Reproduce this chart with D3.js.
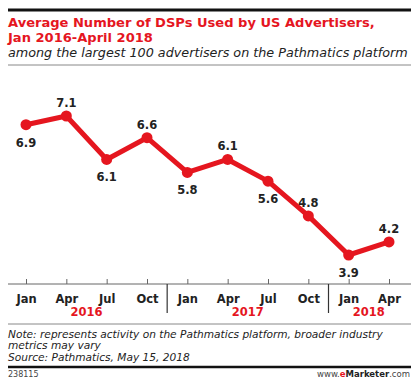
<!DOCTYPE html>
<html><head><meta charset="utf-8">
<script src="https://cdn.jsdelivr.net/npm/d3@7"></script>
<style>body{margin:0;background:#fff}svg{display:block}</style>
</head><body>
<script>
const months = ["Jan","Apr","Jul","Oct","Jan","Apr","Jul","Oct","Jan","Apr"];
const values = [6.9,7.1,6.1,6.6,5.8,6.1,5.6,4.8,3.9,4.2];
const labelPos = ["below","above","below","above","below","above","below","above","below","above"];
const years = ["2016","2017","2018"];
const yearStart = [0,4,8];
const yearEnd = [3,7,9];

const W=420,H=392;
const svg=d3.select("body").append("svg").attr("width",W).attr("height",H);
const red="#e5161f", dark="#222";
const font="'DejaVu Sans', 'Open Sans', sans-serif";

// fit a text's font size so it spans a target width
function fitText(sel, target){
  sel.attr("font-size",10);
  const w=sel.node().getComputedTextLength();
  sel.attr("font-size",(10*target/w).toFixed(2));
  return sel;
}

svg.append("rect").attr("width",W).attr("height",H).attr("fill","#fff");
svg.append("line").attr("x1",8).attr("x2",411).attr("y1",10).attr("y2",10).attr("stroke","#111").attr("stroke-width",3);
const t1=svg.append("text").attr("x",8).attr("y",27).attr("fill",red).attr("font-family",font).attr("font-weight",700).text("Average Number of DSPs Used by US Advertisers,");
fitText(t1,367);
svg.append("text").attr("x",8).attr("y",42).attr("fill",red).attr("font-family",font).attr("font-weight",700).attr("font-size",t1.attr("font-size")).text("Jan 2016-April 2018");
const st=svg.append("text").attr("x",8).attr("y",56.5).attr("fill",dark).attr("font-family",font).attr("font-style","italic").text("among the largest 100 advertisers on the Pathmatics platform");
fitText(st,400);
svg.append("line").attr("x1",8).attr("x2",411).attr("y1",65).attr("y2",65).attr("stroke","#888").attr("stroke-width",1);

const x=d3.scalePoint().domain(d3.range(values.length)).range([26,389]);
const y=d3.scaleLinear().domain([3.9,7.1]).range([255,116]);
const axisY=284;

// axis
const ax=svg.append("g").attr("transform",`translate(0,${axisY})`)
  .call(d3.axisBottom(x).tickSize(-5).tickFormat(i=>months[i]).tickPadding(9));
ax.select(".domain").attr("d",`M8,0H411`).attr("stroke","#666").attr("stroke-width",1);
ax.selectAll(".tick line").attr("stroke","#666");
ax.selectAll(".tick text").attr("font-family",font).attr("font-weight",700).attr("font-size",11.5).attr("fill",dark).attr("dy","0.85em");

const step=x.step();
[1,2].forEach(k=>{
  const sx=x(yearStart[k])-step/2;
  svg.append("line").attr("x1",sx).attr("x2",sx).attr("y1",axisY).attr("y2",313).attr("stroke","#333").attr("stroke-width",1.2);
});
years.forEach((yr,k)=>{
  svg.append("text").attr("x",(x(yearStart[k])+x(yearEnd[k]))/2).attr("y",315.5).attr("text-anchor","middle")
   .attr("fill",red).attr("font-family",font).attr("font-weight",700).attr("font-size",11.5).text(yr);
});

// line
const line=d3.line().x((d,i)=>x(i)).y(d=>y(d));
svg.append("path").datum(values).attr("d",line).attr("fill","none").attr("stroke",red).attr("stroke-width",5).attr("stroke-linejoin","round");
svg.selectAll("circle.pt").data(values).join("circle").attr("cx",(d,i)=>x(i)).attr("cy",d=>y(d)).attr("r",5.5).attr("fill",red);
svg.selectAll("text.lbl").data(values).join("text").attr("class","lbl")
  .attr("x",(d,i)=>x(i)).attr("y",(d,i)=>labelPos[i]==="above"?y(d)-9:y(d)+22)
  .attr("text-anchor","middle").attr("font-family",font).attr("font-weight",700).attr("font-size",11.5).attr("fill",dark)
  .text(d=>d.toFixed(1));

// footer
svg.append("line").attr("x1",8).attr("x2",411).attr("y1",324).attr("y2",324).attr("stroke","#888").attr("stroke-width",1);
const notes=["Note: represents activity on the Pathmatics platform, broader industry","metrics may vary","Source: Pathmatics, May 15, 2018"];
const n0=svg.append("text").attr("x",8).attr("y",337.5).attr("font-family",font).attr("font-style","italic").attr("fill",dark).text(notes[0]);
fitText(n0,375);
const nfs=n0.attr("font-size");
notes.slice(1).forEach((t,i)=>svg.append("text").attr("x",8).attr("y",337.5+(i+1)*11.5).attr("font-family",font).attr("font-style","italic").attr("font-size",nfs).attr("fill",dark).text(t));
svg.append("line").attr("x1",8).attr("x2",411).attr("y1",367).attr("y2",367).attr("stroke","#111").attr("stroke-width",2.5);
svg.append("text").attr("x",8).attr("y",377).attr("font-family",font).attr("font-size",8).attr("fill","#444").text("238115");
const em=svg.append("text").attr("x",410).attr("y",377).attr("text-anchor","end").attr("font-family",font).attr("font-size",8.5).attr("fill","#444");
em.append("tspan").text("www.");
em.append("tspan").attr("fill",red).attr("font-weight",700).text("e");
em.append("tspan").attr("fill","#222").attr("font-weight",700).text("Marketer");
em.append("tspan").text(".com");
</script>
</body></html>
